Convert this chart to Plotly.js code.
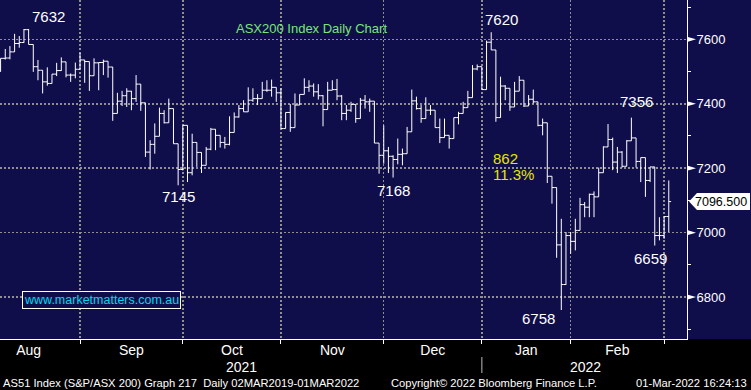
<!DOCTYPE html>
<html><head><meta charset="utf-8">
<script src="https://cdn.plot.ly/plotly-3.0.1.min.js"></script>
<style>html,body{margin:0;padding:0;background:#000;overflow:hidden}#chart{width:751px;height:390px}</style>
</head><body><div id="chart"></div>
<script>
// ---- data (ASX200 daily OHLC) ----
const dates = [
'2021-08-06','2021-08-09','2021-08-10','2021-08-11','2021-08-12','2021-08-13','2021-08-16','2021-08-17','2021-08-18','2021-08-19','2021-08-20','2021-08-23','2021-08-24','2021-08-25','2021-08-26','2021-08-27','2021-08-30','2021-08-31',
'2021-09-01','2021-09-02','2021-09-03','2021-09-06','2021-09-07','2021-09-08','2021-09-09','2021-09-10','2021-09-13','2021-09-14','2021-09-15','2021-09-16','2021-09-17','2021-09-20','2021-09-21','2021-09-22','2021-09-23','2021-09-24','2021-09-27','2021-09-28','2021-09-29','2021-09-30',
'2021-10-01','2021-10-04','2021-10-05','2021-10-06','2021-10-07','2021-10-08','2021-10-11','2021-10-12','2021-10-13','2021-10-14','2021-10-15','2021-10-18','2021-10-19','2021-10-20','2021-10-21','2021-10-22','2021-10-25','2021-10-26','2021-10-27','2021-10-28','2021-10-29',
'2021-11-01','2021-11-02','2021-11-03','2021-11-04','2021-11-05','2021-11-08','2021-11-09','2021-11-10','2021-11-11','2021-11-12','2021-11-15','2021-11-16','2021-11-17','2021-11-18','2021-11-19','2021-11-22','2021-11-23','2021-11-24','2021-11-25','2021-11-26','2021-11-29','2021-11-30',
'2021-12-01','2021-12-02','2021-12-03','2021-12-06','2021-12-07','2021-12-08','2021-12-09','2021-12-10','2021-12-13','2021-12-14','2021-12-15','2021-12-16','2021-12-17','2021-12-20','2021-12-21','2021-12-22','2021-12-23','2021-12-24','2021-12-29','2021-12-30','2021-12-31',
'2022-01-04','2022-01-05','2022-01-06','2022-01-07','2022-01-10','2022-01-11','2022-01-12','2022-01-13','2022-01-14','2022-01-17','2022-01-18','2022-01-19','2022-01-20','2022-01-21','2022-01-24','2022-01-25','2022-01-27','2022-01-28','2022-01-31',
'2022-02-01','2022-02-02','2022-02-03','2022-02-04','2022-02-07','2022-02-08','2022-02-09','2022-02-10','2022-02-11','2022-02-14','2022-02-15','2022-02-16','2022-02-17','2022-02-18','2022-02-21','2022-02-22','2022-02-23','2022-02-24','2022-02-25','2022-02-28',
'2022-03-01'];
const open = [7515,7541,7542,7561,7587,7590,7630,7584,7515,7504,7468,7463,7492,7503,7530,7489,7489,7507,
7536,7531,7487,7527,7528,7532,7514,7370,7408,7425,7439,7416,7461,7403,7250,7274,7299,7370,7341,7385,7276,7196,
7333,7186,7280,7249,7209,7259,7321,7302,7280,7274,7311,7359,7385,7375,7411,7416,7416,7442,7442,7451,7434,
7323,7373,7326,7396,7429,7451,7455,7437,7425,7382,7442,7444,7424,7370,7380,7398,7354,7411,7406,7408,7278,7240,
7254,7237,7227,7243,7245,7313,7409,7385,7354,7380,7380,7326,7295,7302,7292,7357,7370,7388,7419,7508,7515,
7444,7591,7567,7357,7455,7448,7390,7439,7473,7393,7414,7406,7333,7341,7175,7140,6962,6839,6991,
6973,7007,7087,7079,7119,7111,7186,7266,7289,7219,7250,7206,7285,7294,7221,7233,7162,7204,6991,6991,
7050];
const high = [7541,7570,7579,7617,7610,7632,7632,7584,7536,7504,7513,7492,7527,7544,7530,7494,7528,7558,
7536,7531,7541,7528,7537,7532,7514,7434,7440,7448,7440,7489,7461,7403,7287,7339,7388,7380,7416,7385,7276,7333,
7333,7307,7280,7249,7266,7325,7321,7302,7297,7361,7373,7396,7411,7451,7448,7430,7468,7473,7475,7451,7448,
7373,7399,7432,7429,7479,7473,7463,7461,7427,7468,7473,7477,7427,7396,7406,7398,7418,7427,7416,7408,7278,7333,
7266,7240,7292,7261,7328,7444,7422,7396,7420,7396,7380,7354,7354,7302,7357,7375,7406,7440,7520,7522,7515,
7596,7622,7567,7484,7458,7448,7468,7486,7473,7427,7444,7406,7354,7341,7175,7140,7043,7002,7002,
7043,7108,7095,7121,7128,7202,7268,7337,7295,7266,7253,7287,7357,7294,7233,7233,7204,7204,7048,7050,
7162];
const low = [7499,7537,7538,7561,7574,7589,7584,7499,7473,7432,7456,7463,7486,7502,7482,7468,7479,7507,
7465,7440,7487,7442,7489,7481,7347,7370,7393,7390,7380,7406,7378,7235,7196,7245,7299,7339,7341,7276,7147,7193,
7157,7178,7204,7185,7209,7256,7256,7264,7261,7271,7311,7357,7375,7375,7406,7396,7416,7437,7422,7406,7323,
7323,7313,7326,7396,7429,7437,7422,7413,7330,7382,7442,7411,7349,7349,7375,7341,7354,7385,7375,7278,7183,7214,
7185,7171,7212,7209,7245,7313,7382,7341,7354,7365,7326,7278,7295,7261,7292,7336,7370,7388,7419,7504,7444,
7444,7567,7344,7357,7411,7378,7390,7439,7390,7393,7401,7330,7302,7154,7090,6922,6760,6838,6934,
6945,7007,7048,7048,7048,7111,7186,7266,7194,7185,7202,7206,7285,7202,7157,7111,7157,6960,6976,6981,
7002];
const close = [7541,7542,7561,7587,7590,7630,7584,7515,7504,7468,7463,7492,7503,7530,7489,7489,7507,7536,
7531,7487,7527,7528,7532,7514,7370,7408,7425,7439,7416,7461,7403,7250,7274,7299,7370,7341,7385,7276,7196,7333,
7186,7280,7249,7209,7259,7321,7302,7280,7274,7311,7359,7385,7375,7411,7416,7416,7442,7442,7451,7434,7323,
7373,7326,7396,7429,7451,7455,7437,7425,7382,7442,7444,7424,7370,7380,7398,7354,7411,7406,7408,7278,7240,7254,
7237,7227,7243,7245,7313,7409,7385,7354,7380,7380,7326,7295,7302,7292,7357,7370,7388,7419,7508,7515,7444,
7591,7567,7357,7455,7448,7390,7439,7473,7393,7414,7406,7333,7341,7175,7140,6962,6839,6991,6973,
7007,7087,7079,7119,7111,7186,7266,7289,7219,7250,7206,7285,7294,7221,7233,7162,7204,6991,6991,7050,
7096.5];
const monthLabels = ['Aug','Sep','Oct','Nov','Dec','Jan','Feb'];
const yearLabels = ['2021','2022'];
const yTicks = [6800,7000,7200,7400,7600];
const yMinorTicks = [6700,6900,7100,7300,7500,7700];
const lastPrice = 7096.5;
const peakLabels = ['7632','7145','7168','7620','7356','6758','6659'];
const moveLabels = ['862','11.3%'];

// ---- layout constants ----
const FONT = '"Liberation Sans", Arial, sans-serif';
const NARROW = '"Liberation Sans Narrow", "Liberation Sans", Arial, sans-serif';
const W = 751, H = 390, PW = 687, PH = 339;
const NAVY = '#100e4a';
const xRange = [-0.124, 146.9];
const yRange = [6670, 7722];
const idx = dates.map((d, i) => i);

// month boundaries = last trading day of each month
const ends = [];
for (let i = 0; i < dates.length - 1; i++) {
  if (dates[i].slice(0, 7) !== dates[i + 1].slice(0, 7)) ends.push(i);
}
const centers = ends.map((e, k) => ((k === 0 ? e - 22 : ends[k - 1]) + e) / 2);
const yearSplit = ends[4];

const px = p => p / PW;            // pixel -> paper x
const py = p => 1 - p / PH;        // pixel -> paper y
const yPerPx = (yRange[1] - yRange[0]) / PH;

const trace = {
  type: 'ohlc', x: idx, open: open, high: high, low: low, close: close,
  increasing: {line: {color: '#ffffff', width: 1}},
  decreasing: {line: {color: '#ffffff', width: 1}},
  tickwidth: 0.5, hoverinfo: 'skip', showlegend: false
};

const shapes = [];
// black footer strip
shapes.push({type: 'rect', xref: 'paper', yref: 'paper', x0: -0.01, x1: 1.2, y0: py(H + 5), y1: 0,
  fillcolor: '#000000', line: {width: 0}, layer: 'below'});
// year separator
shapes.push({type: 'line', xref: 'x', yref: 'paper', x0: yearSplit, x1: yearSplit, y0: py(357), y1: py(373),
  line: {color: '#bdbdbd', width: 1}});
// major y tick pointers
yTicks.forEach(v => {
  const h = 2.6 * yPerPx;
  shapes.push({type: 'path', xref: 'paper', yref: 'y',
    path: `M1,${v + h} L${px(PW + 9)},${v} L1,${v - h} Z`, fillcolor: '#ffffff', line: {width: 0}});
});
// last price box
{
  const h = 8.5 * yPerPx, v = lastPrice;
  shapes.push({type: 'path', xref: 'paper', yref: 'y',
    path: `M${px(689)},${v} L${px(697)},${v + h} L${px(750)},${v + h} L${px(750)},${v - h} L${px(697)},${v - h} Z`,
    fillcolor: '#ffffff', line: {width: 0}});
}

function ann(text, x, y, color, size, family, xanchor, extra) {
  return Object.assign({text: text, xref: 'paper', yref: 'paper', x: px(x), y: py(y), xanchor: xanchor || 'center',
    yanchor: 'middle', showarrow: false, font: {color: color, size: size, family: family || FONT}}, extra || {});
}
const WHITE = '#ffffff', YELLOW = '#e6e600', GREEN = '#78e678', CYAN = '#00d8f0';
const annotations = [
  ann(peakLabels[0], 48.5, 16, WHITE, 15, NARROW),
  ann(peakLabels[1], 178.5, 196, WHITE, 15, NARROW),
  ann(peakLabels[2], 393, 191, WHITE, 15, NARROW),
  ann(peakLabels[3], 501, 20, WHITE, 15, NARROW),
  ann(peakLabels[4], 636.5, 101, WHITE, 15, NARROW),
  ann(peakLabels[5], 538, 318, WHITE, 15, NARROW),
  ann(peakLabels[6], 650, 258, WHITE, 15, NARROW),
  ann(moveLabels[0], 491, 158, YELLOW, 15, NARROW, 'left'),
  ann(moveLabels[1], 491, 174, YELLOW, 15, NARROW, 'left'),
  ann('ASX200 Index Daily Chart', 234, 28, GREEN, 13, FONT, 'left'),
  ann('www.marketmatters.com.au', 101, 300, CYAN, 12.5, FONT, 'center',
      {bgcolor: NAVY, bordercolor: '#ffffff', borderwidth: 1, borderpad: 1}),
  ann(yearLabels[0], 241, 367, WHITE, 14, NARROW),
  ann(yearLabels[1], 585, 367, WHITE, 14, NARROW),
  ann('AS51 Index (S&amp;P/ASX 200) Graph 217\u00a0\u00a0Daily 02MAR2019-01MAR2022', 1, 382.5, WHITE, 11.2, FONT, 'left'),
  ann('Copyright\u00a9 2022 Bloomberg Finance L.P.', 389, 382.5, WHITE, 11.2, FONT, 'left'),
  ann('01-Mar-2022 16:24:13', 749, 382.5, WHITE, 11.2, FONT, 'right'),
  Object.assign(ann(lastPrice.toFixed(3), 748, 0, '#000000', 12.5, FONT, 'right'), {yref: 'y', y: lastPrice, borderpad: 0})
];

const layout = {
  width: W, height: H,
  margin: {l: 0, r: W - PW, t: 0, b: H - PH, pad: 0},
  paper_bgcolor: NAVY, plot_bgcolor: NAVY,
  showlegend: false,
  xaxis: {
    range: xRange, fixedrange: true, rangeslider: {visible: false},
    showgrid: false, zeroline: false, showline: true, linecolor: '#ffffff', linewidth: 1,
    tickmode: 'array', tickvals: centers, ticktext: monthLabels, ticks: '', ticklabelstandoff: -2,
    tickfont: {color: '#ffffff', size: 14, family: NARROW},
    minor: {tickmode: 'array', tickvals: ends, ticks: 'outside', ticklen: 4, tickcolor: '#ffffff', tickwidth: 1,
      showgrid: true, gridcolor: '#909090', griddash: '2px,2px', gridwidth: 1.5}
  },
  yaxis: {
    range: yRange, fixedrange: true, side: 'right',
    showgrid: true, gridcolor: '#909090', griddash: '2px,2px', gridwidth: 1.5, zeroline: false,
    showline: true, linecolor: '#ffffff', linewidth: 1,
    tickmode: 'array', tickvals: yTicks, ticktext: yTicks.map(String), ticks: '', ticklabelstandoff: 6,
    tickfont: {color: '#ffffff', size: 13, family: FONT},
    minor: {tickmode: 'array', tickvals: yMinorTicks, ticks: 'outside', ticklen: 3, tickcolor: '#ffffff', tickwidth: 1, showgrid: false}
  },
  shapes: shapes,
  annotations: annotations
};

Plotly.newPlot('chart', [trace], layout, {staticPlot: true, displayModeBar: false});
</script></body></html>
